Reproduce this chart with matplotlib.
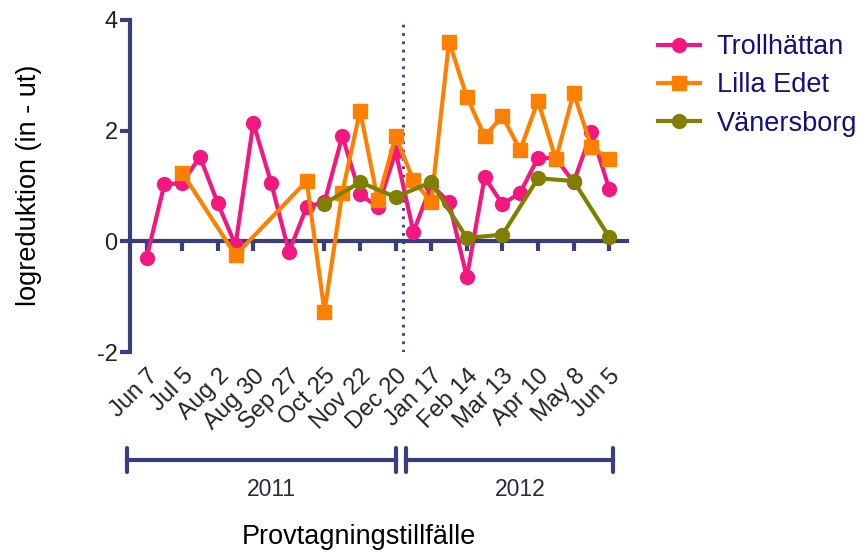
import numpy as np
import pandas as pd
import matplotlib
matplotlib.use("Agg")
import matplotlib.pyplot as plt
import matplotlib.transforms as mtransforms

plt.rcParams['font.family'] = ['Liberation Sans', 'DejaVu Sans']
plt.rcParams['axes.unicode_minus'] = False

NAVY = '#3a3d80'

# Trollhättan: every second week
troll_dates = pd.date_range('2011-06-07', '2012-06-05', freq='14D')
troll_vals = [-0.30, 1.03, 1.05, 1.53, 0.69, -0.07, 2.14, 1.06, -0.19, 0.62,
              0.71, 1.90, 0.85, 0.62, 1.62, 0.17, 1.02, 0.71, -0.65, 1.16,
              0.67, 0.88, 1.51, 1.50, 1.07, 1.97, 0.95]

lilla_dates = pd.to_datetime(['2011-07-05', '2011-08-16', '2011-10-11', '2011-10-25',
                              '2011-11-08', '2011-11-22', '2011-12-06', '2011-12-20',
                              '2012-01-03', '2012-01-17', '2012-01-31', '2012-02-14',
                              '2012-02-28', '2012-03-13', '2012-03-27', '2012-04-10',
                              '2012-04-24', '2012-05-08', '2012-05-22', '2012-06-05'])
lilla_vals = [1.24, -0.25, 1.09, -1.27, 0.88, 2.36, 0.74, 1.90, 1.10, 0.71,
              3.61, 2.61, 1.90, 2.26, 1.65, 2.54, 1.48, 2.68, 1.71, 1.48]

vaner_dates = pd.to_datetime(['2011-10-25', '2011-11-22', '2011-12-20', '2012-01-17',
                              '2012-02-14', '2012-03-13', '2012-04-10', '2012-05-08',
                              '2012-06-05'])
vaner_vals = [0.68, 1.07, 0.80, 1.07, 0.06, 0.12, 1.14, 1.09, 0.08]

tick_dates = pd.date_range('2011-06-07', '2012-06-05', freq='28D')
tick_labels = [d.strftime('%b ') + str(d.day) for d in tick_dates]

year_split = pd.Timestamp('2011-12-26')
years = ['2011', '2012']
year_spans = [(pd.Timestamp('2011-05-23'), pd.Timestamp('2011-12-20')),
              (pd.Timestamp('2011-12-28'), pd.Timestamp('2012-06-08'))]
year_label_pos = [pd.Timestamp('2011-09-13'), pd.Timestamp('2012-03-27')]

fig = plt.figure(figsize=(8.64, 5.52), dpi=100)
ax = fig.add_axes([0.1505, 0.3623, 0.5752, 0.6015])

style = dict(lw=3, ms=10, solid_joinstyle='miter')
ax.plot(troll_dates, troll_vals, '-o', color='#f4177f', label='Trollhättan', zorder=3, **style)
ax.plot(lilla_dates, lilla_vals, '-s', color='#ff8000', label='Lilla Edet', zorder=4, **style)
ax.plot(vaner_dates, vaner_vals, '-o', color='#808000', label='Vänersborg', zorder=5, **style)

ax.axvline(year_split, color=NAVY, lw=2, ls=(0, (1, 2)), zorder=1)

ax.set_xlim(pd.Timestamp('2011-05-25'), pd.Timestamp('2012-06-19'))
ax.set_ylim(-2, 4)
ax.set_yticks([-2, 0, 2, 4])
ax.set_xticks(tick_dates)
ax.set_xticklabels(tick_labels)

for s in ['top', 'right']:
    ax.spines[s].set_visible(False)
ax.spines['bottom'].set_position(('data', 0))
for s in ['left', 'bottom']:
    ax.spines[s].set_color(NAVY)
    ax.spines[s].set_linewidth(3)
ax.tick_params(axis='both', colors=NAVY, width=3, length=7, labelcolor='#222222', pad=2)
ax.tick_params(axis='y', labelsize=17)
ax.tick_params(axis='x', pad=82, labelrotation=45, labelsize=17)
for lab in ax.get_xticklabels():
    lab.set_ha('right')
    lab.set_rotation_mode('anchor')

ax.set_ylabel('logreduktion (in - ut)', fontsize=19.5)
ax.yaxis.set_label_coords(-0.177, (352 - 185) / 332)

trans = mtransforms.blended_transform_factory(ax.transData, ax.transAxes)
yb = -(460 - 352) / 332
for yr, (a, b), xl in zip(years, year_spans, year_label_pos):
    ax.plot([a, b], [yb, yb], color=NAVY, lw=3, transform=trans, clip_on=False)
    for e in (a, b):
        ax.plot([e, e], [yb - 0.036, yb + 0.036], color=NAVY, lw=3, transform=trans, clip_on=False,
                solid_capstyle='round')
    ax.text(xl, -(489 - 352) / 332, yr, transform=trans, ha='center', va='center',
            fontsize=16.5, color='#2a2a3a')

fig.text(359 / 864, 1 - 537 / 552, 'Provtagningstillfälle', ha='center', va='center', fontsize=19.5)

leg = ax.legend(loc='upper left', bbox_to_anchor=(1.04, 0.99), borderaxespad=0, frameon=False,
                fontsize=19.5, handlelength=1.55, labelspacing=0.45, handletextpad=0.63)
for t in leg.get_texts():
    t.set_color('#101080')

fig.savefig('out.png', dpi=100)
